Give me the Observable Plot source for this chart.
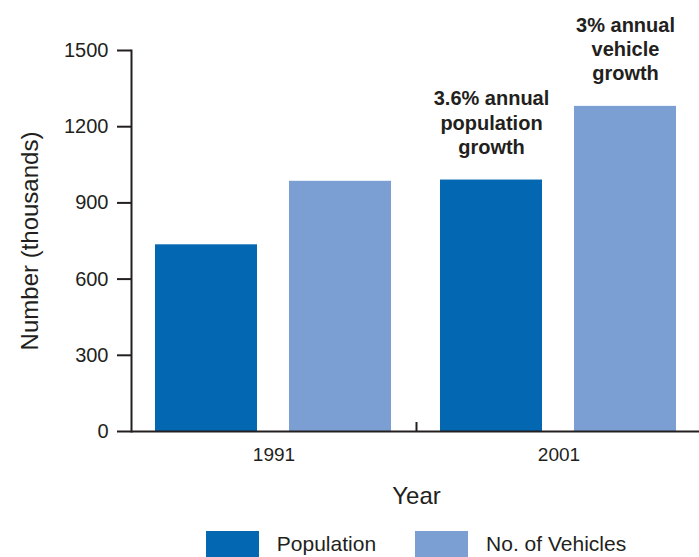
<!DOCTYPE html>
<html>
<head>
<meta charset="utf-8">
<script src="https://cdn.jsdelivr.net/npm/d3@7"></script>
<script src="https://cdn.jsdelivr.net/npm/@observablehq/plot@0.6"></script>
<style>
  body { margin: 0; background: #fff; font-family: "Liberation Sans", Arial, sans-serif; color: #231f20; }
  #chart { width: 699px; }
  #chart svg { display: block; overflow: visible; }
  .legend { display: flex; justify-content: center; align-items: center; margin-top: 11px; font-size: 21px; }
  .legend .item { display: flex; align-items: center; }
  .legend .item + .item { margin-left: 39px; }
  .legend .sw { width: 53px; height: 26px; margin-right: 18px; }
</style>
</head>
<body>
<div id="chart"></div>
<script>
// Census years and the two series (thousands)
const years = [1991, 2001];
const series = ["Population", "No. of Vehicles"];
const population = [735, 990];
const vehicles = [985, 1280];
const yTicks = [0, 300, 600, 900, 1200, 1500];
const colors = ["#0367b2", "#7c9fd3"];
const growthNotes = ["3.6% annual\npopulation\ngrowth", "3% annual\nvehicle\ngrowth"];

const rows = years.flatMap((year, i) => [
  {year, series: series[0], value: population[i]},
  {year, series: series[1], value: vehicles[i]}
]);
// Growth notes sit above the latest year's bars
const last = years.length - 1;
const notes = [
  {year: years[last], series: series[0], value: population[last], text: growthNotes[0]},
  {year: years[last], series: series[1], value: vehicles[last], text: growthNotes[1]}
];

const W = 699, ML = 131, MR = -2;
const facetStep = (W - ML - MR) / years.length;
const ink = "#231f20";
const font = "'Liberation Sans', Arial, sans-serif";

const plot = Plot.plot({
  width: W,
  height: 520,
  marginLeft: ML,
  marginRight: MR,
  marginTop: 50,
  marginBottom: 89,
  style: {fontFamily: font, color: ink, background: "#fff", overflow: "visible"},
  fx: {domain: years, padding: 0, label: null, axis: null},
  x: {domain: series, paddingInner: 0.237, paddingOuter: 0.178, axis: null},
  y: {domain: [0, 1500], label: null, axis: null},
  color: {domain: series, range: colors},
  marks: [
    Plot.barY(rows, {fx: "year", x: "series", y: "value", fill: "series"}),
    Plot.ruleY([0], {stroke: ink, strokeWidth: 2}),
    Plot.frame({anchor: "left", facetAnchor: "left", stroke: ink, strokeWidth: 2}),
    Plot.axisY({anchor: "left", ticks: yTicks, tickFormat: "d", tickSize: 14, tickPadding: 9, fontSize: 20,
                strokeWidth: 2, label: null, facetAnchor: "left", fill: ink, stroke: ink}),
    Plot.axisFx({anchor: "bottom", tickFormat: "d", tickSize: 0, tickPadding: 16, fontSize: 19,
                 label: null, fill: ink}),
    // short divider tick between the two year groups
    Plot.axisFx({anchor: "bottom", ticks: years.slice(1), text: null, tickSize: -9, dx: -facetStep / 2,
                 strokeWidth: 2, stroke: ink, label: null}),
    Plot.text(notes, {fx: "year", x: "series", y: "value", text: "text", lineAnchor: "bottom",
                      dy: -26, fontSize: 20, fontWeight: "bold", lineHeight: 1.22, fill: ink}),
    Plot.text(["Year"], {facet: "super", frameAnchor: "bottom", text: d => d, dy: 72,
                         lineAnchor: "bottom", fontSize: 24, fill: ink}),
    Plot.text(["Number (thousands)"], {facet: "super", frameAnchor: "left", text: d => d, rotate: -90,
                         textAnchor: "middle", dx: -111, lineAnchor: "top", fontSize: 24, fill: ink})
  ]
});

const chart = document.getElementById("chart");
chart.appendChild(plot);

// Legend built from the plot's color scale
const color = plot.scale("color");
const legend = d3.select(chart).append("div").attr("class", "legend")
  .style("margin-left", ML + "px").style("width", (W - ML - MR) + "px");
const items = legend.selectAll(".item").data(color.domain).join("div").attr("class", "item");
items.append("div").attr("class", "sw").style("background", d => color.apply(d));
items.append("span").text(d => d);
</script>
</body>
</html>
